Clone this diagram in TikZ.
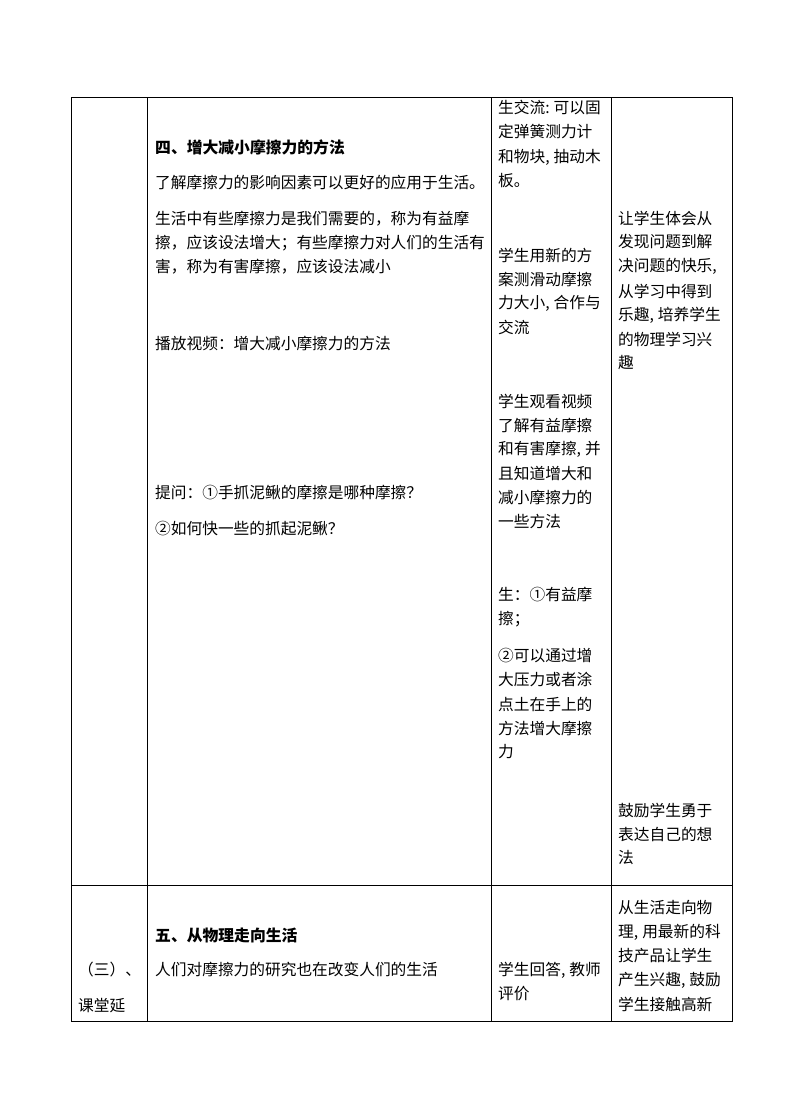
\documentclass[tikz,border=0pt]{standalone}
\usepackage{fontspec}
\newfontfamily\cjk{Noto Sans CJK SC}
\newcommand\hcomma{,\kern4pt}
\newcommand\hcolon{:\kern4pt}
\begin{document}
\begin{tikzpicture}[x=1pt,y=-1pt,
  txt/.style={anchor=west, inner sep=0pt, font=\cjk\fontsize{15.7}{18}\selectfont},
  ttl/.style={anchor=west, inner sep=0pt, font=\cjk\bfseries\fontsize{15.8}{18}\selectfont},
  rule/.style={line width=0.8pt, black}]
\useasboundingbox (0,0) rectangle (790,1119);
% table grid
\coordinate (tl) at (71,97);
\coordinate (br) at (732,1021);
\draw[rule] (tl) rectangle (br);
\draw[rule] (147,97) -- (147,1021);
\draw[rule] (491,97) -- (491,1021);
\draw[rule] (611,97) -- (611,1021);
\draw[rule] (71,885) -- (732,885);
% column 2, row 1
\node[ttl] (t1) at (155,147) {四、增大减小摩擦力的方法};
\node[txt] (a1) at (155,183) {了解摩擦力的影响因素可以更好的应用于生活。};
\node[txt] (a2) at (155,219) {生活中有些摩擦力是我们需要的，称为有益摩};
\node[txt] (a3) at (155,243) {擦，应该设法增大；有些摩擦力对人们的生活有};
\node[txt] (a4) at (155,267) {害，称为有害摩擦，应该设法减小};
\node[txt] (a5) at (155,343) {播放视频：增大减小摩擦力的方法};
\node[txt] (a6) at (155,493) {提问：①手抓泥鳅的摩擦是哪种摩擦？};
\node[txt] (a7) at (155,529) {②如何快一些的抓起泥鳅？};
% column 3, row 1
\node[txt] (b1) at (498,108) {生交流\hcolon 可以固};
\node[txt] (b2) at (498,132) {定弹簧测力计};
\node[txt] (b3) at (498,157) {和物块\hcomma 抽动木};
\node[txt] (b4) at (498,181) {板。};
\node[txt] (b5) at (498,255) {学生用新的方};
\node[txt] (b6) at (498,279) {案测滑动摩擦};
\node[txt] (b7) at (498,303) {力大小\hcomma 合作与};
\node[txt] (b8) at (498,327) {交流};
\node[txt] (b9) at (498,401) {学生观看视频};
\node[txt] (b10) at (498,425) {了解有益摩擦};
\node[txt] (b11) at (498,449) {和有害摩擦\hcomma 并};
\node[txt] (b12) at (498,473) {且知道增大和};
\node[txt] (b13) at (498,497) {减小摩擦力的};
\node[txt] (b14) at (498,521) {一些方法};
\node[txt] (b15) at (498,595) {生：①有益摩};
\node[txt] (b16) at (498,619) {擦；};
\node[txt] (b17) at (498,656) {②可以通过增};
\node[txt] (b18) at (498,680) {大压力或者涂};
\node[txt] (b19) at (498,704) {点土在手上的};
\node[txt] (b20) at (498,728) {方法增大摩擦};
\node[txt] (b21) at (498,752) {力};
% column 4, row 1
\node[txt] (c1) at (618,218) {让学生体会从};
\node[txt] (c2) at (618,242) {发现问题到解};
\node[txt] (c3) at (618,266) {决问题的快乐\hcomma};
\node[txt] (c4) at (618,291) {从学习中得到};
\node[txt] (c5) at (618,315) {乐趣\hcomma 培养学生};
\node[txt] (c6) at (618,339) {的物理学习兴};
\node[txt] (c7) at (618,363) {趣};
\node[txt] (c8) at (618,810) {鼓励学生勇于};
\node[txt] (c9) at (618,834) {表达自己的想};
\node[txt] (c10) at (618,858) {法};
% row 2
\node[txt] (d1) at (78,970) {（三）、};
\node[txt] (d2) at (78,1006) {课堂延};
\node[ttl] (t2) at (155,935) {五、从物理走向生活};
\node[txt] (e1) at (155,969) {人们对摩擦力的研究也在改变人们的生活};
\node[txt] (f1) at (498,970) {学生回答\hcomma 教师};
\node[txt] (f2) at (498,994) {评价};
\node[txt] (g1) at (618,908) {从生活走向物};
\node[txt] (g2) at (618,932) {理\hcomma 用最新的科};
\node[txt] (g3) at (618,956) {技产品让学生};
\node[txt] (g4) at (618,980) {产生兴趣\hcomma 鼓励};
\node[txt] (g5) at (618,1004) {学生接触高新};
\end{tikzpicture}
\end{document}
